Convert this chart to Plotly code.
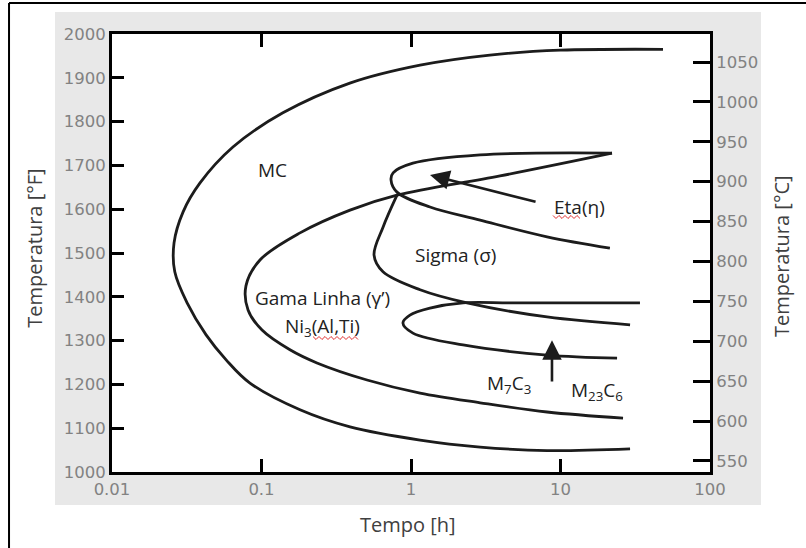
import math
import plotly.graph_objects as go

# ---------------- data (time in h, temperature in °F) ----------------
mc_t = [48.5, 10.0, 3.37, 1.15, 0.39, 0.139, 0.0644, 0.0388, 0.0299, 0.0260, 0.0263,
        0.0318, 0.0426, 0.058, 0.0837, 0.181, 0.391, 1.15, 2.9, 8.13, 29.2]
mc_F = [1965, 1963, 1952, 1929, 1888, 1820, 1742, 1660, 1594, 1523, 1457,
        1386, 1313, 1256, 1203, 1142, 1103, 1073, 1057, 1049, 1053]

gp_t = [22.1, 3.94, 0.806, 0.391, 0.181, 0.0977, 0.0787, 0.0813, 0.1008, 0.155,
        0.235, 0.508, 1.15, 2.9, 8.13, 26.2]
gp_F = [1728, 1676, 1632, 1598, 1546, 1484, 1425, 1370, 1324, 1279,
        1249, 1210, 1180, 1158, 1137, 1123]

eta_t = [22.1, 2.9, 1.03, 0.759, 0.735, 0.806, 1.34, 2.9, 8.13, 21.4]
eta_F = [1728, 1724, 1705, 1683, 1667, 1639, 1605, 1575, 1537, 1511]

sig_t = [0.806, 0.650, 0.566, 0.650, 1.15, 2.37, 8.13, 29.2]
sig_F = [1632, 1559, 1495, 1457, 1416, 1386, 1354, 1336]

carb_t = [34.0, 4.81, 2.23, 1.34, 0.984, 0.883, 1.03, 2.23, 8.13, 23.9]
carb_F = [1386, 1386, 1386, 1374, 1358, 1340, 1317, 1290, 1267, 1260]

x_ticks = [0.01, 0.1, 1, 10, 100]
x_tick_text = ["0.01", "0.1", "1", "10", "100"]
yF_ticks = list(range(1000, 2001, 100))
yC_ticks = list(range(550, 1051, 50))
yC_range = [536.2, 1085.1]

# labels: (text, time, °F)
labels = [
    ("MC", 0.119, 1689),
    ("Sigma (σ)", 1.97, 1495),
    ("Eta(η)", 13.5, 1605),
    ("Gama Linha (γ’)", 0.254, 1397),
    ("Ni<sub>3</sub>(Al,Ti)", 0.254, 1331),
    ("M<sub>7</sub>C<sub>3</sub>", 4.53, 1201),
    ("M<sub>23</sub>C<sub>6</sub>", 17.5, 1185),
]
# arrows: (tail time, tail °F, tip time, tip °F)
arrows = [
    (6.97, 1616, 1.34, 1678),
    (8.77, 1203, 8.77, 1301),
]

LINE = "#1c1c1c"
fig = go.Figure()
for t, F in [(mc_t, mc_F), (gp_t, gp_F), (eta_t, eta_F), (sig_t, sig_F), (carb_t, carb_F)]:
    fig.add_trace(go.Scatter(x=t, y=F, mode="lines",
                             line=dict(color=LINE, width=2.8, shape="spline", smoothing=1.0),
                             hoverinfo="skip", showlegend=False))
# invisible trace for secondary axis
fig.add_trace(go.Scatter(x=[1], y=[800], yaxis="y2", mode="markers",
                         marker=dict(opacity=0), showlegend=False, hoverinfo="skip"))

ann = []
for txt, t, F in labels:
    ann.append(dict(text=txt, x=math.log10(t), y=F, xref="x", yref="y", showarrow=False,
                    xanchor="center", yanchor="middle",
                    font=dict(family="Open Sans", size=19, color="#222222")))
for ta, Fa, tb, Fb in arrows:
    ann.append(dict(text="", x=math.log10(tb), y=Fb, ax=math.log10(ta), ay=Fa,
                    xref="x", yref="y", axref="x", ayref="y", showarrow=True,
                    arrowhead=2, arrowsize=1.5, arrowwidth=2.6, arrowcolor=LINE))
title_font = dict(family="Open Sans", size=20, color="#404040")
ann.append(dict(text="Temperatura [°F]", x=-0.1288, y=0.512, xref="paper", yref="paper",
                xanchor="center", yanchor="middle",
                textangle=-90, showarrow=False, font=title_font))
ann.append(dict(text="Temperatura [°C]", x=1.1187, y=0.493, xref="paper", yref="paper",
                xanchor="center", yanchor="middle",
                textangle=-90, showarrow=False, font=title_font))
ann.append(dict(text="Tempo [h]", x=0.495, y=-0.121, xref="paper", yref="paper",
                xanchor="center", yanchor="middle",
                showarrow=False, font=title_font))


def squiggle(px0, px1, py, amp=1.5, step=3.0):
    # wavy spell-check underline, built in paper coordinates
    pts = []
    n = int((px1 - px0) / step)
    for i in range(n + 1):
        px = px0 + i * step
        dy = amp if i % 2 else -amp
        pts.append(((px - 112) / 598, (472 - (py + dy)) / 438))
    return "M " + " L ".join(f"{a:.5f},{b:.5f}" for a, b in pts)


tick_font = dict(family="DejaVu Sans", size=16.5, color="#828282")
shapes = [
    dict(type="rect", xref="paper", yref="paper", x0=-0.0953, x1=1.0853, y0=-0.0753, y1=1.0502,
         fillcolor="#e8e8e8", line=dict(width=0), layer="below"),
    dict(type="rect", xref="paper", yref="paper", x0=0, x1=1, y0=0, y1=1,
         fillcolor="white", line=dict(width=0), layer="below"),
    dict(type="line", xref="paper", yref="paper", x0=-0.1722, x1=1.17, y0=1.0708, y1=1.0708,
         line=dict(color="black", width=2)),
    dict(type="line", xref="paper", yref="paper", x0=-0.1722, x1=-0.1722, y0=1.0708, y1=-0.18,
         line=dict(color="black", width=2)),
    dict(type="path", xref="paper", yref="paper", path=squiggle(553, 580, 217),
         line=dict(color="#e03030", width=1)),
    dict(type="path", xref="paper", yref="paper", path=squiggle(313, 360, 338),
         line=dict(color="#e03030", width=1)),
]

fig.update_layout(
    width=806, height=548,
    margin=dict(l=112, r=96, t=34, b=76),
    paper_bgcolor="white", plot_bgcolor="white",
    showlegend=False,
    annotations=ann, shapes=shapes,
    xaxis=dict(type="log", range=[-2, 2], tickvals=x_ticks, ticktext=x_tick_text,
               showgrid=False, zeroline=False, showline=True, linewidth=3, linecolor="black",
               mirror="ticks", ticks="inside", ticklen=13, tickwidth=3, tickcolor="black",
               tickfont=tick_font),
    yaxis=dict(range=[1000, 2000], tickvals=yF_ticks, showgrid=False, zeroline=False,
               showline=True, linewidth=3, linecolor="black", ticks="inside", ticklen=12,
               tickwidth=3, tickcolor="black", tickfont=tick_font),
    yaxis2=dict(range=yC_range, tickvals=yC_ticks, overlaying="y", side="right",
                showgrid=False, zeroline=False, showline=True, linewidth=3, linecolor="black",
                ticks="inside", ticklen=17, tickwidth=3, tickcolor="black", tickfont=tick_font),
)
fig.write_html("out.html")
